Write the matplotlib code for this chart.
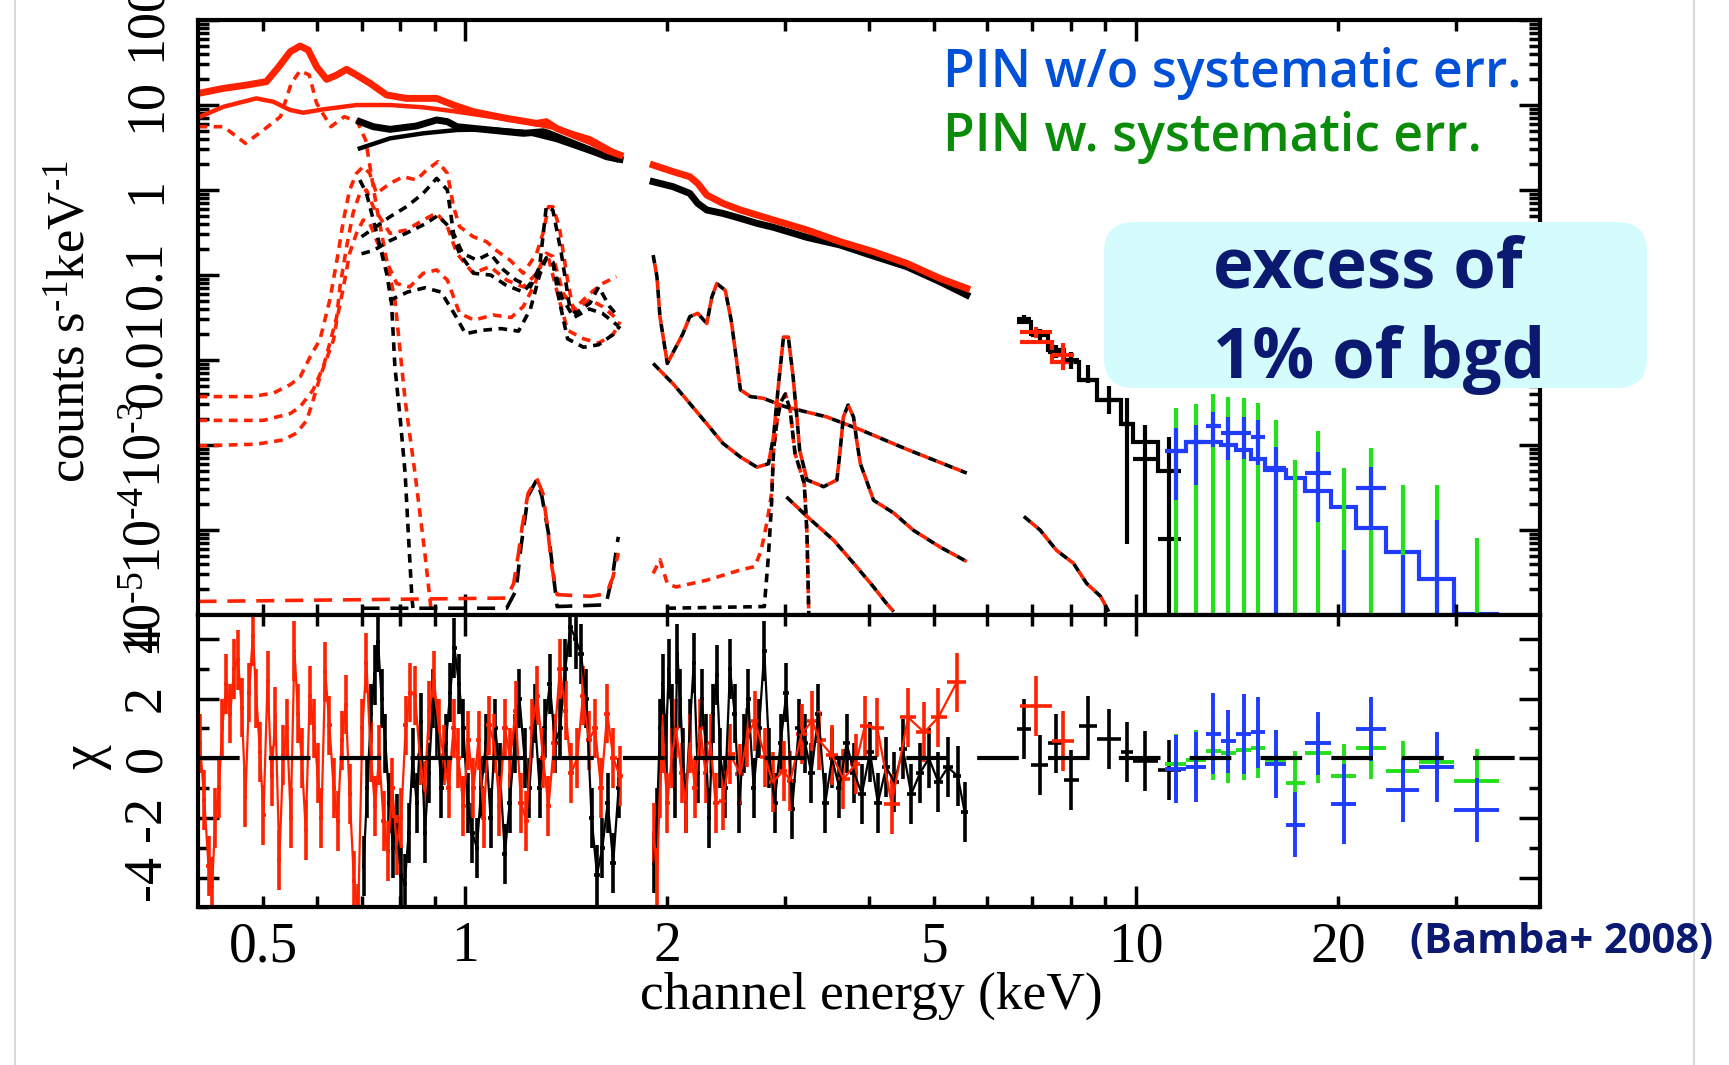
import numpy as np
import matplotlib
matplotlib.use("Agg")
import matplotlib.pyplot as plt
from matplotlib.ticker import FixedLocator, NullFormatter, FuncFormatter
from matplotlib.patches import FancyBboxPatch
from matplotlib.lines import Line2D

plt.rcParams['font.family'] = ['Liberation Serif', 'DejaVu Serif']
plt.rcParams['mathtext.fontset'] = 'custom'
plt.rcParams['mathtext.rm'] = 'Liberation Serif'
plt.rcParams['mathtext.it'] = 'Liberation Serif:italic'

RED = '#ff2200'
BLUE = '#1f3cff'
GREEN = '#22e01a'
NAVY = '#0b1a70'

# ---- top panel: spectra, energies in keV, values as log10(counts/s/keV) ----
# XIS BI (red) data, soft band
red_soft_E = [0.40, 0.436, 0.472, 0.505, 0.527, 0.548, 0.567, 0.583, 0.600, 0.621, 0.643, 0.665, 0.688, 0.721,
              0.763, 0.817, 0.906, 0.960, 1.027, 1.152, 1.277, 1.32, 1.368, 1.448, 1.534, 1.623, 1.70]
red_soft_lg = [1.137, 1.196, 1.235, 1.275, 1.45, 1.627, 1.694, 1.647, 1.45, 1.302, 1.353, 1.42, 1.353, 1.255,
               1.118, 1.078, 1.078, 1.0, 0.922, 0.843, 0.784, 0.804, 0.725, 0.647, 0.569, 0.471, 0.412]
# XIS FI (black) data, soft band
blk_soft_E = [0.696, 0.729, 0.772, 0.845, 0.906, 0.94, 0.971, 1.088, 1.22, 1.305, 1.33, 1.448, 1.534, 1.623, 1.70]
blk_soft_lg = [0.804, 0.745, 0.714, 0.753, 0.824, 0.804, 0.745, 0.706, 0.667, 0.686, 0.667, 0.549, 0.471, 0.392,
               0.361]
# smooth continuum components
red_cont_E = [0.40, 0.436, 0.488, 0.517, 0.548, 0.573, 0.614, 0.688, 0.772, 0.865, 0.971, 1.088, 1.22, 1.368,
              1.534, 1.70]
red_cont_lg = [0.855, 0.98, 1.078, 1.039, 0.941, 0.91, 0.949, 1.0, 1.0, 0.973, 0.922, 0.863, 0.804, 0.725,
               0.608, 0.412]
blk_cont_E = [0.696, 0.772, 0.865, 0.971, 1.088, 1.22, 1.368, 1.534, 1.68]
blk_cont_lg = [0.49, 0.608, 0.667, 0.706, 0.714, 0.686, 0.588, 0.451, 0.353]

# hard band data 1.9-5.6 keV
mid_E = [1.905, 2.04, 2.16, 2.22, 2.29, 2.42, 2.57, 2.72, 2.88, 3.23, 3.62, 4.06, 4.55, 5.10, 5.59]
red_mid_lg = [0.294, 0.216, 0.157, 0.078, -0.059, -0.157, -0.235, -0.294, -0.353, -0.47, -0.608, -0.726,
              -0.863, -1.04, -1.157]
blk_mid_lg = [0.098, 0.039, -0.039, -0.157, -0.235, -0.275, -0.333, -0.392, -0.439, -0.557, -0.647, -0.777,
              -0.902, -1.079, -1.235]

# XIS above 6.6 keV (binned)
hi_blk_edges = [6.65, 6.97, 7.39, 7.80, 8.22, 8.73, 9.48, 9.88, 10.79, 11.65]
hi_blk_model_lg = [-1.55, -1.69, -1.88, -2.02, -2.24, -2.47, -2.75, -2.96, -3.31]
hi_blk_data_lg = [-1.52, -1.70, -1.90, -2.00, -2.24, -2.47, -2.75, -3.17, -4.10]
hi_blk_hi_lg = [-1.47, -1.63, -1.82, -1.90, -2.06, -2.31, -2.45, -2.77, -2.90]
hi_blk_lo_lg = [-1.58, -1.77, -1.98, -2.10, -2.27, -2.63, -4.16, -6.0, -6.0]
hi_red_edges = [6.71, 7.48, 8.07]
hi_red_model_lg = [-1.79, -2.02]
hi_red_data_lg = [-1.674, -1.94]
hi_red_hi_lg = [-1.608, -1.804]
hi_red_lo_lg = [-1.745, -2.118]

# HXD-PIN
pin_edges = [11.05, 11.87, 12.7, 13.36, 14.08, 14.85, 15.57, 16.72, 17.84, 19.49, 21.3, 23.6, 26.4, 29.8, 34.8]
pin_model_lg = [-3.07, -2.96, -2.96, -3.0, -3.06, -3.16, -3.29, -3.39, -3.54, -3.73, -3.98, -4.26, -4.58, -4.99]
pin_data_lg = [-3.07, -2.96, -2.78, -2.86, -2.86, -2.90, -3.27, np.nan, -3.33, np.nan, -3.51, np.nan, np.nan, np.nan]
pin_hi_lg = [-2.80, -2.77, -2.61, -2.67, -2.67, -2.71, -3.02, np.nan, -3.08, -4.24, -3.26, -4.29, -3.88, np.nan]
pin_lo_lg = [-3.65, -3.47, -3.02, -3.18, -3.16, -3.24, -6.0, np.nan, -3.90, -6.0, -4.0, -6.0, -6.0, np.nan]
pin_sys_hi_lg = [-2.57, -2.52, -2.40, -2.43, -2.45, -2.51, -2.71, -3.18, -2.84, -3.27, -3.04, -3.47, -3.47, -4.09]

# model components (dotted)
o_red_E = [0.40, 0.436, 0.47, 0.50, 0.53, 0.55, 0.567, 0.585, 0.60, 0.63, 0.66, 0.69, 0.71, 0.737, 0.763, 0.785,
           0.813, 0.841, 0.870, 0.890]
o_red_lg = [0.745, 0.745, 0.549, 0.706, 0.863, 1.255, 1.404, 1.353, 1.02, 0.745, 0.863, 0.804, 0.588, -0.196,
            -0.824, -1.29, -2.47, -3.33, -4.27, -4.98]
o_blk_E = [0.696, 0.712, 0.729, 0.746, 0.763, 0.776, 0.785, 0.799, 0.813, 0.822, 0.832, 0.837]
o_blk_lg = [0.118, -0.039, -0.353, -0.667, -0.98, -1.33, -2.08, -2.67, -3.33, -4.04, -4.78, -5.0]
r1_E = [0.40, 0.48, 0.517, 0.548, 0.567, 0.587, 0.607, 0.628, 0.646, 0.658, 0.672, 0.688, 0.704, 0.72, 0.737,
        0.772, 0.808, 0.845, 0.875, 0.91, 0.94, 0.96, 0.98, 1.027, 1.075, 1.11, 1.165, 1.22, 1.277, 1.305, 1.33,
        1.35, 1.38, 1.42, 1.448, 1.534, 1.60, 1.68]
r1_lg = [-2.43, -2.43, -2.39, -2.29, -2.2, -1.96, -1.76, -1.29, -0.745, -0.353, 0.0, 0.196, 0.275, 0.196, -0.04,
         0.078, 0.157, 0.118, 0.235, 0.333, 0.196, -0.196, -0.43, -0.549, -0.608, -0.706, -0.824, -0.98, -0.745,
         -0.51, -0.196, -0.196, -0.43, -1.06, -1.41, -1.216, -1.1, -1.02]
r2_E = [0.40, 0.50, 0.548, 0.567, 0.593, 0.614, 0.628, 0.643, 0.65, 0.665, 0.68, 0.696, 0.712, 0.729, 0.772,
        0.817, 0.865, 0.906, 0.94, 0.971, 1.027, 1.088, 1.152, 1.22, 1.277, 1.32, 1.35, 1.40, 1.46, 1.534, 1.60,
        1.69]
r2_lg = [-2.71, -2.71, -2.63, -2.55, -2.35, -2.08, -1.8, -1.49, -1.14, -0.67, -0.27, -0.04, 0.0, -0.2, -0.51,
         -0.47, -0.353, -0.27, -0.43, -0.745, -0.98, -0.9, -1.06, -1.14, -0.98, -0.745, -0.78, -1.22, -1.41, -1.29,
         -1.37, -1.53]
r3_E = [0.40, 0.488, 0.535, 0.56, 0.58, 0.593, 0.607, 0.62, 0.636, 0.643, 0.658, 0.672, 0.688, 0.704, 0.72, 0.737,
        0.79, 0.826, 0.865, 0.906, 0.94, 0.98, 1.03, 1.10, 1.17, 1.22, 1.27, 1.30, 1.33, 1.37, 1.42, 1.50, 1.58,
        1.66, 1.70]
r3_lg = [-3.01, -2.99, -2.94, -2.86, -2.71, -2.47, -2.2, -2.0, -1.76, -1.53, -1.14, -0.745, -0.51, -0.353, -0.39,
         -0.59, -1.1, -1.14, -0.98, -0.94, -1.06, -1.45, -1.53, -1.47, -1.5, -1.37, -1.1, -0.85, -0.8, -1.2, -1.65,
         -1.75, -1.8, -1.7, -1.55]
k1_E = [0.70, 0.73, 0.772, 0.817, 0.865, 0.906, 0.94, 0.96, 0.99, 1.04, 1.088, 1.14, 1.19, 1.25, 1.29, 1.32, 1.35,
        1.39, 1.43, 1.46, 1.534, 1.58, 1.64, 1.69]
k1_lg = [-0.55, -0.45, -0.314, -0.196, -0.039, 0.137, 0.0, -0.51, -0.745, -0.824, -0.745, -0.94, -1.06, -1.14,
         -0.9, -0.196, -0.235, -0.745, -1.37, -1.45, -1.33, -1.14, -1.37, -1.49]
k2_E = [0.70, 0.73, 0.77, 0.82, 0.87, 0.91, 0.95, 0.98, 1.03, 1.09, 1.15, 1.22, 1.28, 1.32, 1.35, 1.39, 1.45,
        1.53, 1.60, 1.69]
k2_lg = [-0.75, -0.71, -0.6, -0.5, -0.4, -0.3, -0.45, -0.75, -0.98, -1.0, -1.12, -1.2, -1.0, -0.8, -0.85, -1.25,
         -1.5, -1.4, -1.45, -1.6]
k3_E = [0.77, 0.82, 0.87, 0.92, 0.97, 1.0, 1.06, 1.13, 1.2, 1.25, 1.29, 1.32, 1.35, 1.38, 1.42, 1.5, 1.58, 1.66,
        1.70]
k3_lg = [-1.3, -1.2, -1.15, -1.2, -1.5, -1.69, -1.65, -1.63, -1.66, -1.4, -1.0, -0.8, -0.85, -1.3, -1.75, -1.85,
         -1.82, -1.7, -1.6]
bot_red_E = [0.40, 0.688, 1.152, 1.18, 1.20, 1.215, 1.24, 1.277, 1.305, 1.325, 1.345, 1.37, 1.534, 1.623, 1.66,
             1.69]
bot_red_lg = [-4.84, -4.82, -4.8, -4.63, -4.27, -3.96, -3.57, -3.39, -3.57, -3.96, -4.43, -4.76, -4.78, -4.75,
              -4.55, -4.27]
bot_blk_E = [0.70, 1.152, 1.19, 1.21, 1.24, 1.277, 1.30, 1.33, 1.37, 1.62, 1.66, 1.69]
bot_blk_lg = [-4.92, -4.92, -4.71, -4.2, -3.6, -3.41, -3.6, -4.04, -4.9, -4.88, -4.5, -4.08]
mida_E = [1.905, 1.93, 1.95, 2.0, 2.11, 2.16, 2.22, 2.29, 2.33, 2.37, 2.44, 2.49, 2.54, 2.57, 2.66, 2.78, 3.0,
          3.46, 3.88, 4.55, 5.59]
mida_lg = [-0.765, -1.02, -1.49, -2.04, -1.69, -1.49, -1.45, -1.57, -1.26, -1.1, -1.18, -1.53, -2.04, -2.35,
           -2.43, -2.45, -2.55, -2.67, -2.82, -3.05, -3.33]
midb_E = [1.905, 2.04, 2.16, 2.29, 2.42, 2.57, 2.72, 2.83, 2.88, 2.93, 2.98, 3.03, 3.08, 3.12, 3.15, 3.23, 3.42,
          3.58, 3.62, 3.66, 3.72, 3.79, 3.83, 3.88, 4.06, 4.35, 4.65, 5.10, 5.59]
midb_lg = [-2.04, -2.28, -2.51, -2.75, -2.98, -3.14, -3.26, -3.22, -2.9, -2.28, -1.73, -1.73, -2.2, -2.67, -3.06,
           -3.41, -3.49, -3.41, -3.06, -2.67, -2.53, -2.67, -2.94, -3.22, -3.65, -3.8, -4.0, -4.2, -4.37]
midc_red_E = [1.905, 1.95, 2.0, 2.06, 2.29, 2.57, 2.70, 2.76, 2.82, 2.86, 2.88, 2.91, 2.95, 3.0, 3.05, 3.1, 3.2,
              3.23, 3.25]
midc_red_lg = [-4.51, -4.35, -4.63, -4.67, -4.59, -4.47, -4.43, -4.24, -3.88, -3.57, -3.06, -2.75, -2.5, -2.4,
               -2.6, -3.1, -3.45, -4.04, -4.98]
midc_blk_E = [2.0, 2.79, 2.83, 2.86, 2.88, 2.91, 2.95, 3.0, 3.05, 3.1, 3.2, 3.23, 3.25]
midc_blk_lg = [-4.92, -4.9, -4.3, -3.7, -3.06, -2.75, -2.5, -2.4, -2.6, -3.1, -3.45, -4.04, -4.98]
midd_E = [3.01, 3.23, 3.54, 3.79, 4.06, 4.24, 4.35]
midd_lg = [-3.61, -3.84, -4.12, -4.39, -4.67, -4.86, -4.96]
hia_E = [6.8, 7.19, 7.61, 8.06, 8.44, 8.85, 9.1]
hia_lg = [-3.84, -4.0, -4.24, -4.39, -4.63, -4.78, -4.96]

# ---- bottom panel: residuals (chi) ----
red_res_lo_E = [0.402, 0.408, 0.414, 0.419, 0.424, 0.429, 0.434, 0.440, 0.446, 0.452,
                0.458, 0.464, 0.470, 0.476, 0.482, 0.488, 0.494, 0.500, 0.507, 0.514,
                0.521, 0.528, 0.535, 0.542, 0.549, 0.556, 0.563, 0.570, 0.578, 0.586,
                0.594, 0.602, 0.610, 0.618, 0.627, 0.636, 0.645, 0.654, 0.663, 0.672,
                0.682, 0.692, 0.702, 0.712, 0.722, 0.733, 0.744, 0.755, 0.766, 0.778,
                0.790, 0.802, 0.815, 0.828, 0.841, 0.855, 0.869, 0.883, 0.898, 0.913,
                0.928, 0.944, 0.960, 0.976, 0.993, 1.010, 1.028, 1.046, 1.065, 1.084,
                1.104, 1.124, 1.145, 1.166, 1.188, 1.210, 1.233, 1.256, 1.280, 1.305,
                1.330, 1.356, 1.383, 1.410, 1.438, 1.467, 1.497, 1.528, 1.560, 1.593,
                1.627, 1.662, 1.698]
red_res_lo = [0.5, -1.4, -3.6, -4.3, -2.0, -1.0, 1.0, 2.5, 1.5, 3.0,
              3.3, 1.7, -1.3, 2.2, 4.1, 2.0, 0.2, -1.9, 2.6, -0.6,
              1.4, -3.4, 0.1, 1.0, -2.0, 3.6, 1.5, 0.0, -2.4, 2.1,
              1.0, -0.5, -2.0, 2.9, 1.1, -1.0, -2.1, 0.6, 1.8, -1.2,
              -4.1, -5.2, 1.0, 3.2, 0.2, -1.6, 0.1, -2.1, -3.1, -1.0,
              -2.9, -2.0, 1.1, 2.2, 2.1, 0.1, -1.1, 1.6, 2.6, 1.0,
              0.1, -1.0, 1.0, 0.0, -1.6, 0.6, -1.0, 0.6, -2.0, 1.1,
              0.5, -1.6, 1.0, 0.0, 1.6, -1.5, -2.1, 1.0, 2.1, 0.0,
              -1.6, 0.5, 3.0, 1.6, -0.5, 0.0, 2.1, 0.6, 1.0, -1.0,
              1.5, 0.0, -0.6]
blk_res_lo_E = [0.705, 0.714, 0.723, 0.732, 0.741, 0.750, 0.760, 0.770, 0.780, 0.790,
                0.801, 0.812, 0.823, 0.834, 0.846, 0.858, 0.870, 0.882, 0.895, 0.908,
                0.921, 0.935, 0.949, 0.963, 0.978, 0.993, 1.008, 1.024, 1.040, 1.056,
                1.073, 1.090, 1.108, 1.126, 1.145, 1.164, 1.184, 1.204, 1.225, 1.246,
                1.268, 1.290, 1.313, 1.336, 1.360, 1.384, 1.409, 1.434, 1.460, 1.487,
                1.514, 1.542, 1.571, 1.600, 1.630, 1.661, 1.692]
blk_res_lo = [-3.6, -1.0, 1.5, 2.8, 3.9, 2.0, 0.5, -1.5, -3.0, -2.2,
              -3.9, -4.2, -2.5, 0.0, -1.5, 1.2, -2.5, -0.5, 2.0, 1.0,
              -1.0, 0.5, 2.2, 3.7, 2.5, 1.0, -1.5, -2.5, -3.0, -1.0,
              0.5, -2.0, 1.0, -0.5, -3.2, -1.5, 0.5, 2.0, 0.0, -1.0,
              1.5, -1.0, 1.0, 2.5, 0.5, 1.0, 3.0, 4.4, 4.0, 3.5,
              2.0, -2.0, -3.9, -3.0, -1.5, -3.5, -1.0]
blk_res_mid_E = [1.91, 1.93, 1.95, 1.97, 1.99, 2.01, 2.03, 2.05, 2.07, 2.09,
                 2.11, 2.13, 2.16, 2.19, 2.22, 2.25, 2.28, 2.31, 2.34, 2.37,
                 2.40, 2.44, 2.48, 2.52, 2.56, 2.60, 2.64, 2.69, 2.74, 2.79,
                 2.84, 2.89, 2.95, 3.01, 3.07, 3.14, 3.21, 3.28, 3.36, 3.44,
                 3.52, 3.61, 3.70, 3.80, 3.90, 4.01, 4.12, 4.24, 4.36, 4.49,
                 4.62, 4.76, 4.91, 5.07, 5.24, 5.42, 5.55]
blk_res_mid = [-3.5, -2.0, 1.0, 2.5, 0.5, 3.0, 1.5, -1.0, 3.5, 2.0,
               0.0, -1.5, 1.0, 3.2, -0.5, 2.0, 0.5, -2.0, 1.5, 2.8,
               0.0, -1.0, 3.0, 1.5, -1.5, 0.5, 2.0, -1.0, 1.0, 3.6,
               0.0, -1.5, 0.5, 2.2, -1.7, 1.0, 0.5, -0.5, 1.5, -1.5,
               0.0, -1.0, 0.5, -0.5, -1.2, 0.2, -1.5, -0.3, -0.8, 0.3,
               -1.2, -0.5, 0.0, -0.8, -0.3, -0.6, -1.8]
red_res_mid_E = [1.91, 1.93, 1.95, 1.97, 2.00, 2.03, 2.06, 2.10, 2.13, 2.16,
                 2.20, 2.24, 2.28, 2.32, 2.36, 2.42, 2.48, 2.57, 2.63, 2.70,
                 2.80, 2.87, 2.98, 3.05, 3.17, 3.29, 3.37, 3.52, 3.66, 3.82,
                 3.94, 4.11, 4.32, 4.57, 4.83, 5.07, 5.40]
red_res_mid = [-2.5, -4.0, -1.0, 0.5, -1.5, 0.0, 1.0, -0.5, -1.5, 0.5,
               -1.0, 1.0, -0.5, 0.5, -1.5, -1.42, 0.14, -0.53, 0.7, 1.26,
               0.03, -0.8, -0.42, -0.75, 0.81, 1.26, 0.6, 0.1, -0.69, -0.19,
               1.09, 1.03, -1.53, 1.37, 0.87, 1.37, 2.54]
blk_res_hi = [0.98, -0.22, 0.5, -0.73, 1.09, 0.64, 0.2, -0.1, -0.4]
red_res_hi = [1.76, 0.59]
pin_res = [-0.36, -0.3, 0.83, 0.57, 0.81, 0.87, -0.19, -2.22, 0.5, -1.53, 0.98, -1.06, -0.28, -1.73]
pin_res_err = [1.14, 1.17, 1.37, 1.06, 1.34, 1.2, 1.14, 1.09, 1.06, 1.34, 1.06, 1.06, 1.17, 1.06]
pin_sys_res = [-0.19, -0.06, 0.26, 0.17, 0.28, 0.33, -0.06, -0.84, 0.17, -0.58, 0.36, -0.42, -0.14, -0.75]
pin_sys_err = [1.0, 1.0, 1.0, 1.0, 1.0, 1.0, 1.0, 1.1, 1.0, 1.05, 1.05, 1.0, 1.0, 1.05]


def p(a):
    return 10 ** np.asarray(a, dtype=float)


def half_widths(E):
    # half-way to the neighbouring channel, in log space
    E = np.asarray(E, dtype=float)
    le = np.log10(E)
    mid = (le[1:] + le[:-1]) / 2
    lo = np.r_[2 * le[0] - mid[0], mid]
    hi = np.r_[mid, 2 * le[-1] - mid[-1]]
    return [E - 10 ** lo, 10 ** hi - E]


def bins(edges):
    e = np.asarray(edges, dtype=float)
    c = np.sqrt(e[1:] * e[:-1])
    return c, [c - e[:-1], e[1:] - c]


fig = plt.figure(figsize=(17.29, 10.65), dpi=100)
ax1 = fig.add_axes([0.1148, 0.4225, 0.7759, 0.5587])
ax2 = fig.add_axes([0.1148, 0.1479, 0.7759, 0.2746])

# ---------------- top panel ----------------
dot = (2.4, 1.8)
for E, v in [(o_red_E, o_red_lg), (r1_E, r1_lg), (r2_E, r2_lg), (r3_E, r3_lg), (midc_red_E, midc_red_lg)]:
    ax1.plot(E, p(v), color=RED, lw=2.6, ls=(0, dot))
for E, v in [(o_blk_E, o_blk_lg), (k1_E, k1_lg), (k2_E, k2_lg), (k3_E, k3_lg), (midc_blk_E, midc_blk_lg)]:
    ax1.plot(E, p(v), color='k', lw=2.6, ls=(0, dot))
# components seen by both detectors: alternating black / red dashes
for E, v in [(mida_E, mida_lg), (midb_E, midb_lg), (midd_E, midd_lg), (hia_E, hia_lg)]:
    ax1.plot(E, p(v), color='k', lw=2.6, ls=(0, (2.4, 2.4)))
    ax1.plot(E, p(v), color=RED, lw=2.6, ls=(2.4, (2.4, 2.4)))
ax1.plot(bot_blk_E, p(bot_blk_lg), color='k', lw=2.6, ls=(0, (5, 3)))
ax1.plot(bot_red_E, p(bot_red_lg), color=RED, lw=2.6, ls=(0, (5, 3)))

# continua and data
ax1.plot(red_cont_E, p(red_cont_lg), color=RED, lw=3.2)
ax1.plot(blk_cont_E, p(blk_cont_lg), color='k', lw=3.2)
ax1.plot(blk_soft_E, p(blk_soft_lg), color='k', lw=5)
ax1.plot(red_soft_E, p(red_soft_lg), color=RED, lw=5)
ax1.plot(mid_E, p(blk_mid_lg), color='k', lw=5)
ax1.plot(mid_E, p(red_mid_lg), color=RED, lw=5)

# XIS hard tail
c, xe = bins(hi_blk_edges)
ax1.stairs(p(hi_blk_model_lg), hi_blk_edges, color='k', lw=3, baseline=None)
ax1.vlines(c, p(hi_blk_lo_lg), p(hi_blk_hi_lg), color='k', lw=3)
ax1.hlines(p(hi_blk_data_lg), c - xe[0], c + xe[1], color='k', lw=3)
c, xe = bins(hi_red_edges)
ax1.stairs(p(hi_red_model_lg), hi_red_edges, color=RED, lw=3, baseline=None)
ax1.vlines(c, p(hi_red_lo_lg), p(hi_red_hi_lg), color=RED, lw=3)
ax1.hlines(p(hi_red_data_lg), c - xe[0], c + xe[1], color=RED, lw=3)

# PIN
pc, pxe = bins(pin_edges)
ax1.vlines(pc, 1e-6, p(pin_sys_hi_lg), color=GREEN, lw=3)
ax1.vlines(pc, p(pin_lo_lg), p(pin_hi_lg), color=BLUE, lw=3)
ax1.hlines(p(pin_data_lg), pc - pxe[0], pc + pxe[1], color=BLUE, lw=3)
ax1.stairs(p(pin_model_lg), pin_edges, color=BLUE, lw=3, baseline=None)

ax1.set_xscale('log')
ax1.set_yscale('log')
ax1.set_xlim(0.4, 40)
ax1.set_ylim(1e-5, 100)

# ---------------- bottom panel ----------------
for E, r, col in [(blk_res_lo_E, blk_res_lo, 'k'), (blk_res_mid_E, blk_res_mid, 'k'),
                  (red_res_lo_E, red_res_lo, RED), (red_res_mid_E, red_res_mid, RED)]:
    ax2.errorbar(E, r, xerr=half_widths(E), yerr=1, fmt='-', lw=1.6, color=col,
                 ecolor=col, elinewidth=2.6)
c, xe = bins(hi_blk_edges)
ax2.errorbar(c, blk_res_hi, xerr=xe, yerr=1, ecolor='k', fmt='none', elinewidth=2.6)
c, xe = bins(hi_red_edges)
ax2.errorbar(c, red_res_hi, xerr=xe, yerr=1, ecolor=RED, fmt='none', elinewidth=2.6)
ax2.errorbar(pc, pin_sys_res, xerr=pxe, yerr=pin_sys_err, ecolor=GREEN, fmt='none', elinewidth=2.8)
ax2.errorbar(pc, pin_res, xerr=pxe, yerr=pin_res_err, ecolor=BLUE, fmt='none', elinewidth=2.8)
ax2.axhline(0, color='k', lw=3, ls=(0, (10, 7)), zorder=5)

ax2.set_xscale('log')
ax2.set_xlim(0.4, 40)
ax2.set_ylim(-5, 4.8)

# ---------------- axes styling ----------------
x_minor = [0.5, 0.6, 0.7, 0.8, 0.9, 2, 3, 4, 5, 6, 7, 8, 9, 20, 30]
x_lab = {0.5: '0.5', 2: '2', 5: '5', 20: '20'}
for ax in (ax1, ax2):
    for s in ax.spines.values():
        s.set_linewidth(3)
    ax.xaxis.set_major_locator(FixedLocator([1, 10]))
    ax.xaxis.set_minor_locator(FixedLocator(x_minor))
    ax.tick_params(which='both', direction='in', top=True, right=True, width=2.5)
    ax.tick_params(which='major', length=15)
    ax.tick_params(which='minor', length=8)
    ax.tick_params(axis='y', which='major', pad=19, labelsize=39, labelrotation=90)
    ax.tick_params(axis='x', which='both', pad=10, labelsize=40)

ax1.xaxis.set_major_formatter(NullFormatter())
ax1.xaxis.set_minor_formatter(NullFormatter())
ax2.xaxis.set_major_formatter(FuncFormatter(lambda v, i: '%g' % v))
ax2.xaxis.set_minor_formatter(FuncFormatter(lambda v, i: x_lab.get(round(v, 2), '')))

HY = '\u2010'  # short hyphen for the exponents, as in the original
y_lab = {-5: '10$^{' + HY + '5}$', -4: '10$^{' + HY + '4}$', -3: '10$^{' + HY + '3}$', -2: '0.01', -1: '0.1',
         0: '1', 1: '10', 2: '100'}
ax1.yaxis.set_major_locator(FixedLocator([10.0 ** d for d in range(-5, 3)]))
ax1.yaxis.set_minor_locator(FixedLocator([k * 10.0 ** d for d in range(-5, 2) for k in range(2, 10)]))
ax1.yaxis.set_minor_formatter(NullFormatter())
ax1.yaxis.set_major_formatter(FuncFormatter(lambda v, i: y_lab.get(int(round(np.log10(v))), '')))
ax2.yaxis.set_major_locator(FixedLocator([-4, -2, 0, 2, 4]))
ax2.yaxis.set_minor_locator(FixedLocator([-5, -3, -1, 1, 3]))
ax2.yaxis.set_major_formatter(FuncFormatter(lambda v, i: '%d' % v))
for ax in (ax1, ax2):
    for t in ax.get_yticklabels():
        t.set_va('center')

W, H = 1729.0, 1065.0
fig.text(72 / W, 1 - 322 / H, 'counts s$^{' + HY + '1}$keV$^{' + HY + '1}$', rotation=90, ha='center',
         va='center', fontsize=38)
fig.text(86 / W, 1 - 757 / H, '\u03c7', rotation=90, ha='center', va='center', fontsize=40)
fig.text(871 / W, 1 - 1009 / H, 'channel energy (keV)', ha='center', va='baseline', fontsize=38.5)

fig.text(943 / W, 1 - 87 / H, 'PIN w/o systematic err.', family='Open Sans', weight='semibold', fontsize=37.2,
         color='#0050d8', va='baseline')
fig.text(943 / W, 1 - 151 / H, 'PIN w. systematic err.', family='Open Sans', weight='semibold', fontsize=37.2,
         color='#0a8c0a', va='baseline')

box = FancyBboxPatch((1104, H - 388), 543, 166, boxstyle='round,pad=0,rounding_size=30',
                     transform=None, fc='#d4fcfc', ec='none', zorder=10)
fig.add_artist(box)
fig.text(1213 / W, 1 - 288 / H, 'excess of', family='Open Sans', weight='bold', fontsize=49.5,
         color=NAVY, va='baseline', zorder=11)
fig.text(1213 / W, 1 - 378 / H, '1% of bgd', family='Open Sans', weight='bold', fontsize=49.5,
         color=NAVY, va='baseline', zorder=11)
fig.text(1410 / W, 1 - 953 / H, '(Bamba+ 2008)', family='Open Sans', weight='bold', fontsize=30,
         color=NAVY, va='baseline', zorder=11)

for xp in (15, 1694):
    fig.add_artist(Line2D([xp / W, xp / W], [0, 1], transform=fig.transFigure, color='#d9d9d9', lw=1.5))

fig.savefig('out.png', dpi=100)
